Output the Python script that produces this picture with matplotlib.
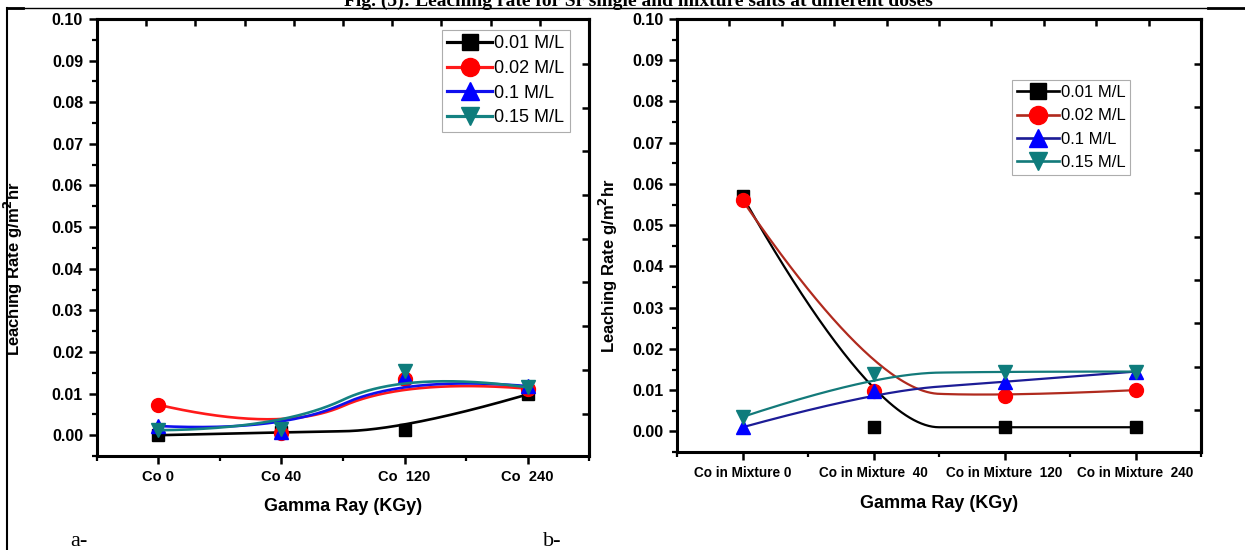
import numpy as np
import matplotlib.pyplot as plt
from matplotlib.lines import Line2D

plt.rcParams['font.family'] = ['Liberation Sans', 'DejaVu Sans']

conc_labels = ['0.01 M/L', '0.02 M/L', '0.1 M/L', '0.15 M/L']
single_doses = ['Co 0', 'Co 40', 'Co  120', 'Co  240']
mixture_doses = ['Co in Mixture 0', 'Co in Mixture  40',
                 'Co in Mixture  120', 'Co in Mixture  240']

# leaching rate (g/m2 hr), Sr single salt
single_001 = [0.0000, 0.0007, 0.0012, 0.0098]
single_002 = [0.0073, 0.0005, 0.0135, 0.0112]
single_01 = [0.0022, 0.0008, 0.0142, 0.0118]
single_015 = [0.0012, 0.0015, 0.0155, 0.0115]

# leaching rate (g/m2 hr), Sr in mixture
mixture_001 = [0.0570, 0.0010, 0.0010, 0.0010]
mixture_002 = [0.0560, 0.0097, 0.0085, 0.0100]
mixture_01 = [0.0010, 0.0097, 0.0120, 0.0145]
mixture_015 = [0.0035, 0.0140, 0.0145, 0.0145]


def bspline(x, y, n=80):
    # clamped quadratic B-spline using the data as control points
    p = np.column_stack([x, y]).astype(float)
    k = len(p)
    t = np.linspace(0, 1, n)[:, None]
    out = []
    for i in range(k - 2):
        a = p[0] if i == 0 else (p[i] + p[i + 1]) / 2
        b = p[i + 1]
        c = p[-1] if i == k - 3 else (p[i + 1] + p[i + 2]) / 2
        out.append((1 - t) ** 2 * a + 2 * t * (1 - t) * b + t ** 2 * c)
    s = np.vstack(out)
    return s[:, 0], s[:, 1]


def draw_panel(ax, doses, series, styles, lw, leg_anchor, leg_size, xt_size, leg_gap):
    x = np.arange(len(doses))
    handles = []
    for i, (vals, st) in enumerate(zip(series, styles)):
        sx, sy = bspline(x, vals)
        ax.plot(sx, sy, color=st['line'], lw=lw, zorder=3 + i, solid_capstyle='round')
        ax.plot(x, vals, ls='none', marker=st['marker'], ms=st['ms'],
                color=st['face'], mec=st['face'], zorder=3 + i, clip_on=False)
        handles.append(Line2D([], [], color=st['line'], lw=lw * 1.2, marker=st['marker'],
                              ms=st['ms'] * 1.3, mfc=st['face'], mec=st['face']))

    ax.set_xlim(-0.5, 3.5)
    ax.set_ylim(-0.005, 0.10)
    ax.set_xticks(x)
    ax.set_xticklabels(doses, fontsize=xt_size, fontweight='bold')
    ax.set_xticks(np.arange(-0.5, 3.6, 0.5), minor=True)
    ax.set_yticks(np.arange(0, 0.1001, 0.01))
    ax.set_yticks(np.arange(-0.005, 0.1, 0.01), minor=True)
    ax.set_yticklabels([f'{v:.2f}' for v in np.arange(0, 0.1001, 0.01)],
                       fontsize=11.5, fontweight='bold')
    ax.tick_params(which='major', direction='out', length=6, width=1.8, pad=4)
    ax.tick_params(which='minor', direction='out', length=3.5, width=1.6)
    for sp in ax.spines.values():
        sp.set_linewidth(2.2)

    top = ax.secondary_xaxis('top')
    top.set_xticks(np.arange(-0.1, 3.5, 0.4))
    top.tick_params(direction='in', length=5, width=1.8, labeltop=False)
    top.spines['top'].set_linewidth(2.2)
    right = ax.secondary_yaxis('right')
    right.set_yticks(np.arange(0.0892, -0.005, -0.0105))
    right.tick_params(direction='in', length=5, width=1.8, labelright=False)
    right.spines['right'].set_linewidth(2.2)

    ax.set_xlabel('Gamma Ray (KGy)', fontsize=13, fontweight='bold')
    ax.set_ylabel('Leaching Rate g/m$^\\mathbf{2}$hr', fontsize=12, fontweight='bold')

    leg = ax.legend(handles, conc_labels, loc='upper right', bbox_to_anchor=leg_anchor,
                    fontsize=leg_size, frameon=True, fancybox=False, handlelength=2.5,
                    handletextpad=0.1, borderpad=0.3, labelspacing=leg_gap,
                    borderaxespad=0)
    leg.get_frame().set_edgecolor('#999999')
    leg.get_frame().set_linewidth(0.8)
    leg.set_zorder(20)
    return ax


fig = plt.figure(figsize=(12.45, 5.5), dpi=100)

ax1 = fig.add_axes([0.0779, 0.1709, 0.3952, 0.7945])
styles1 = [
    dict(line='black', face='black', marker='s', ms=9),
    dict(line='#ff1a1a', face='#ff0000', marker='o', ms=10),
    dict(line='#1010ee', face='#0000ff', marker='^', ms=10.5),
    dict(line='#148282', face='#0e7c7c', marker='v', ms=10.5),
]
draw_panel(ax1, single_doses, [single_001, single_002, single_01, single_015],
           styles1, 1.9, (0.961, 0.975), 13, 10.5, 0.42)
ax1.xaxis.set_label_coords(0.5, -0.095)
ax1.yaxis.set_label_coords(-0.146, 0.43)

ax2 = fig.add_axes([0.5438, 0.1782, 0.4209, 0.7873])
styles2 = [
    dict(line='black', face='black', marker='s', ms=9),
    dict(line='#b02a1e', face='#ff0000', marker='o', ms=10),
    dict(line='#1c1c96', face='#0000ff', marker='^', ms=10.5),
    dict(line='#137a7a', face='#0e7c7c', marker='v', ms=10.5),
]
draw_panel(ax2, mixture_doses, [mixture_001, mixture_002, mixture_01, mixture_015],
           styles2, 1.6, (0.865, 0.859), 12, 9.8, 0.5)
ax2.xaxis.set_label_coords(0.5, -0.1)
ax2.yaxis.set_label_coords(-0.109, 0.43)

# page frame, title and panel letters
fig.text(638 / 1245, 1 - 6 / 550, 'Fig. (5): Leaching rate for Sr single and mixture salts at different doses',
         ha='center', va='baseline', fontsize=14, fontweight='bold', family='Liberation Serif')
fig.add_artist(Line2D([7 / 1245, 1208 / 1245], [1 - 8 / 550] * 2, color='black', lw=1))
fig.add_artist(Line2D([1208 / 1245, 1.0], [1 - 7.5 / 550] * 2, color='black', lw=2))
fig.add_artist(Line2D([7 / 1245, 23 / 1245], [1 - 7.5 / 550] * 2, color='black', lw=2))
fig.add_artist(Line2D([7 / 1245] * 2, [1 - 8 / 550, 0], color='black', lw=1.5))
fig.text(70 / 1245, 1 - 546 / 550, 'a-', va='baseline', fontsize=16, family='Liberation Serif')
fig.text(543 / 1245, 1 - 546 / 550, 'b-', va='baseline', fontsize=16, family='Liberation Serif')

fig.savefig('out.png', dpi=100)
